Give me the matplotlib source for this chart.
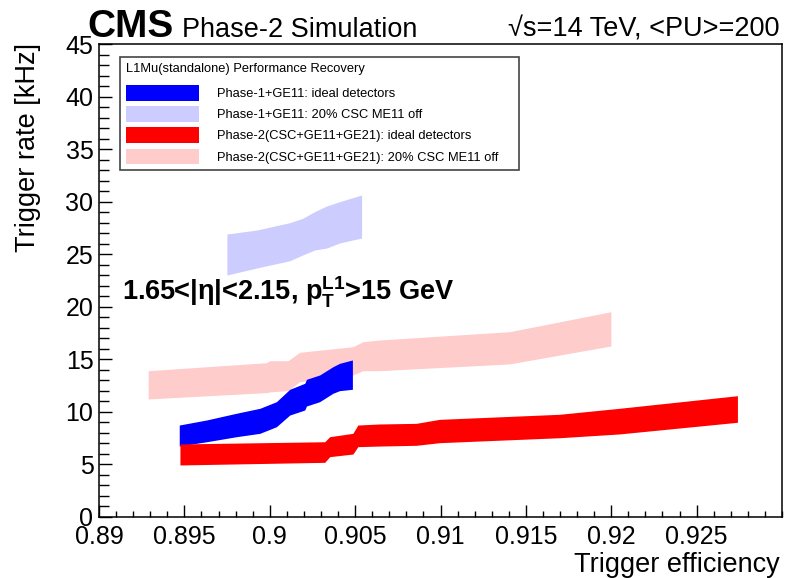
import matplotlib
matplotlib.use("Agg")
import matplotlib.pyplot as plt
from matplotlib.ticker import MultipleLocator

plt.rcParams['font.family'] = ['Liberation Sans', 'DejaVu Sans']
plt.rcParams['mathtext.fontset'] = 'custom'
plt.rcParams['mathtext.rm'] = 'Liberation Sans'
plt.rcParams['mathtext.bf'] = 'Liberation Sans:bold'

# === Band data: efficiency, lower and upper trigger rate [kHz] ===
p1_ideal_eff = [0.89470, 0.89630, 0.89805, 0.89942, 0.90039, 0.90117, 0.90205, 0.90215, 0.90292, 0.90370, 0.90409, 0.90484]
p1_ideal_lo = [6.75, 7.16, 7.64, 7.96, 8.59, 9.70, 10.18, 10.56, 10.97, 11.77, 12.02, 12.15]
p1_ideal_hi = [8.75, 9.23, 9.87, 10.34, 10.97, 12.15, 12.72, 13.10, 13.51, 14.30, 14.62, 14.94]

p1_off_eff = [0.89749, 0.89924, 0.90117, 0.90193, 0.90263, 0.90333, 0.90409, 0.90538]
p1_off_lo = [23.02, 23.69, 24.38, 24.93, 25.40, 25.59, 26.07, 26.54]
p1_off_hi = [26.92, 27.30, 28.00, 28.42, 29.05, 29.59, 30.00, 30.63]

p2_ideal_eff = [0.89474, 0.90322, 0.90351, 0.90487, 0.90516, 0.90643, 0.90858, 0.90994, 0.91696, 0.92047, 0.92739]
p2_ideal_lo = [4.95, 5.20, 5.74, 5.99, 6.69, 6.75, 6.82, 7.07, 7.54, 7.90, 9.01]
p2_ideal_hi = [6.95, 7.16, 7.64, 7.96, 8.75, 8.85, 8.91, 9.29, 9.77, 10.34, 11.54]

p2_off_eff = [0.89288, 0.89981, 0.90000, 0.90107, 0.90175, 0.90487, 0.90546, 0.90643, 0.91404, 0.91998]
p2_off_lo = [11.23, 11.83, 11.90, 12.02, 12.87, 13.51, 13.92, 13.92, 14.56, 16.27]
p2_off_hi = [13.92, 14.68, 14.87, 14.87, 15.67, 16.20, 16.68, 16.84, 17.63, 19.53]

labels = ["Phase-1+GE11: ideal detectors",
          "Phase-1+GE11: 20% CSC ME11 off",
          "Phase-2(CSC+GE11+GE21): ideal detectors",
          "Phase-2(CSC+GE11+GE21): 20% CSC ME11 off"]
colors = ['#0000ff', '#ccccff', '#ff0000', '#ffcccc']

fig = plt.figure(figsize=(7.86, 5.78), dpi=100)
ax = fig.add_axes([99 / 786, 1 - 517 / 578, 683 / 786, 473 / 578])

# draw order: pink, light blue, blue, red
h3 = ax.fill_between(p2_off_eff, p2_off_lo, p2_off_hi, color=colors[3], lw=0)
h1 = ax.fill_between(p1_off_eff, p1_off_lo, p1_off_hi, color=colors[1], lw=0)
h0 = ax.fill_between(p1_ideal_eff, p1_ideal_lo, p1_ideal_hi, color=colors[0], lw=0)
h2 = ax.fill_between(p2_ideal_eff, p2_ideal_lo, p2_ideal_hi, color=colors[2], lw=0)

ax.set_xlim(0.89, 0.93)
ax.set_ylim(0, 45)
ax.xaxis.set_major_locator(MultipleLocator(0.005))
ax.xaxis.set_minor_locator(MultipleLocator(0.001))
ax.yaxis.set_major_locator(MultipleLocator(5))
ax.yaxis.set_minor_locator(MultipleLocator(1))
ax.set_xticks([0.89, 0.895, 0.9, 0.905, 0.91, 0.915, 0.92, 0.925])
ax.set_xticklabels(["0.89", "0.895", "0.9", "0.905", "0.91", "0.915", "0.92", "0.925"])
ax.tick_params(axis='both', which='both', direction='in', top=False, right=False, width=1, labelsize=18)
ax.tick_params(axis='x', which='major', length=8.5, pad=6)
ax.tick_params(axis='x', which='minor', length=4.3)
ax.tick_params(axis='y', which='major', length=9, pad=4)
ax.tick_params(axis='y', which='minor', length=7)
for s in ax.spines.values():
    s.set_linewidth(1.1)

fig.text(0.992, 1 - 572 / 578, "Trigger efficiency", ha='right', va='baseline', fontsize=19.5)
fig.text(28 / 786, 1 - 43 / 578, "Trigger rate [kHz]", rotation=90, ha='center', va='top', fontsize=19.5)

fig.text(87 / 786, 1 - 37 / 578, "CMS", fontsize=28, fontweight='bold', va='baseline')
fig.text(182 / 786, 1 - 37 / 578, "Phase-2 Simulation", fontsize=19.5, va='baseline')
fig.text(780 / 786, 1 - 37 / 578, "\u221as=14 TeV, <PU>=200", fontsize=19.5, ha='right', va='baseline')

ax.text(0.033, (517 - 300) / 473, r"1.65<|η|<2.15, $\mathbf{p}_{\mathbf{T}}^{\mathbf{L1}}$>15 GeV",
        transform=ax.transAxes, fontsize=19.5, fontweight='bold', va='baseline')

leg = ax.legend([h0, h1, h2, h3], labels, title="L1Mu(standalone) Performance Recovery",
                loc='upper left', bbox_to_anchor=(0.0307, 0.727, 0.584, 0.2455), mode='expand',
                alignment='left', fontsize=9.3, title_fontsize=9.3, fancybox=False,
                edgecolor='#444444', framealpha=1, borderaxespad=0,
                handlelength=5.6, handleheight=1.45, handletextpad=1.45, labelspacing=0.45,
                borderpad=0.5)
leg.get_frame().set_linewidth(1.2)
leg._legend_box.sep = 7

fig.savefig("out.png", dpi=100)
